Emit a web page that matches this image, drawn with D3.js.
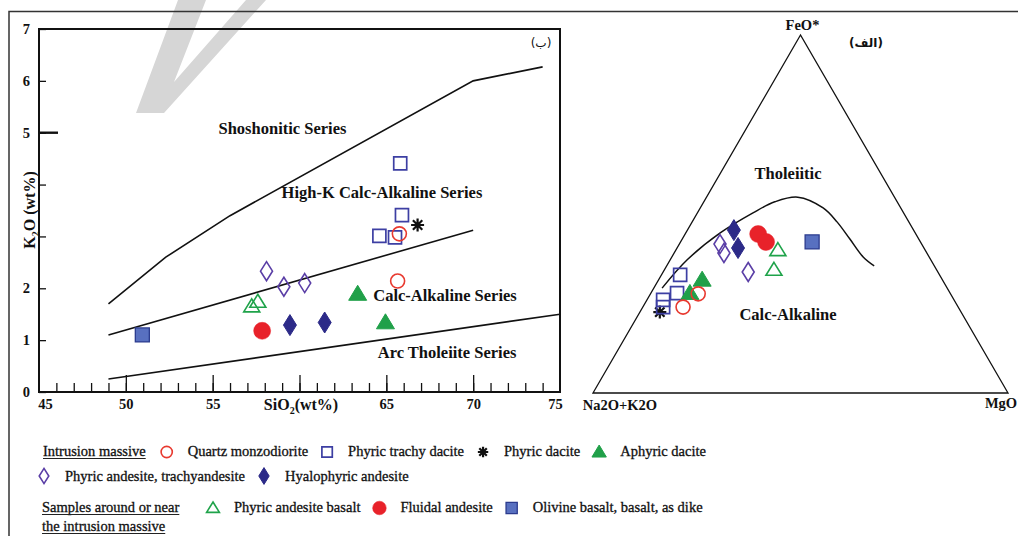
<!DOCTYPE html>
<html>
<head>
<meta charset="utf-8">
<script src="https://cdn.jsdelivr.net/npm/d3@7"></script>
<style>
  body { margin: 0; background: #fff; }
  text { font-family: "Liberation Serif", "Times New Roman", serif; fill: #111; }
</style>
</head>
<body>
<div id="chart"></div>
<script>
// ---------------- data ----------------
const xTickLabels = [45, 50, 55, 65, 70, 75];
const yTickLabels = [0, 1, 2, 5, 6, 7];

const legendKeys = ["qm", "ptd", "pd", "ad", "pa", "ha", "pab", "fa", "ob"];
const legendNames = ["Quartz monzodiorite", "Phyric trachy dacite", "Phyric dacite", "Aphyric dacite",
  "Phyric andesite, trachyandesite", "Hyalophyric andesite",
  "Phyric andesite basalt", "Fluidal andesite", "Olivine basalt, basalt, as dike"];

// K2O vs SiO2 samples
const harkerType = ["ptd", "ptd", "ptd", "ptd", "qm", "qm", "pd", "pa", "pa", "pa",
  "pab", "pab", "fa", "ha", "ha", "ad", "ad", "ob"];
const harkerSiO2 = [65.8, 65.9, 64.6, 65.5, 65.75, 65.65, 66.8, 58.1, 59.1, 60.3,
  57.25, 57.6, 57.85, 59.45, 61.45, 63.35, 64.95, 50.95];
const harkerK2O = [4.41, 3.41, 3.01, 2.98, 3.05, 2.14, 3.22, 2.33, 2.03, 2.10,
  1.65, 1.74, 1.18, 1.29, 1.34, 1.89, 1.34, 1.10];

// series boundaries
const shoLineSiO2 = [49, 52.3, 56, 70, 74];
const shoLineK2O = [1.7, 2.6, 3.4, 6.0, 6.27];
const highKLineSiO2 = [49, 70];
const highKLineK2O = [1.1, 3.12];
const arcLineSiO2 = [49, 75];
const arcLineK2O = [0.25, 1.5];

// AFM samples (percent)
const afmType = ["pd", "ptd", "ptd", "ptd", "ptd", "ad", "ad", "qm", "qm", "pa", "pa", "pa",
  "ha", "ha", "fa", "fa", "pab", "pab", "ob"];
const afmFeO = [22.6, 33.0, 27.9, 26.0, 24.0, 31.6, 27.9, 27.7, 24.0, 41.6, 39.1, 33.8,
  45.5, 40.5, 44.4, 42.2, 39.9, 34.4, 42.2];
const afmMgO = [4.8, 4.5, 6.3, 3.9, 4.9, 10.5, 9.4, 11.5, 9.7, 9.8, 12.0, 20.5,
  11.2, 14.7, 17.6, 20.6, 24.6, 26.4, 31.7];

// Irvine & Baragar boundary (percent)
const ibFeO = [29.3, 37.2, 44.7, 50.3, 53.4, 54.7, 51.7, 47.8, 43.0, 38.0, 35.5];
const ibMgO = [2.0, 4.1, 8.3, 13.4, 17.1, 22.0, 29.6, 34.9, 40.4, 46.1, 50.0];

// ---------------- styles ----------------
const markerStyle = {
  qm:  { shape: "circle",   w: 14, h: 14, fill: "none",    stroke: "#e8392f", sw: 1.6 },
  ptd: { shape: "square",   w: 13, h: 13, fill: "none",    stroke: "#3d3fa3", sw: 1.7 },
  pd:  { shape: "star",     w: 13, h: 13, fill: "none",    stroke: "#111",    sw: 2.2 },
  ad:  { shape: "triangle", w: 18, h: 15, fill: "#20a049", stroke: "#20a049", sw: 1 },
  pa:  { shape: "diamond",  w: 12, h: 19, fill: "none",    stroke: "#5a3ea6", sw: 1.6 },
  ha:  { shape: "diamond",  w: 13, h: 21, fill: "#2c2a88", stroke: "#2c2a88", sw: 1 },
  pab: { shape: "triangle", w: 16, h: 13, fill: "none",    stroke: "#1fa34a", sw: 1.6 },
  fa:  { shape: "circle",   w: 17, h: 17, fill: "#e8222a", stroke: "#e8222a", sw: 0.5 },
  ob:  { shape: "square",   w: 14, h: 14, fill: "#5870c0", stroke: "#2b3b8e", sw: 1.3 }
};

function markerPath(shape, w, h) {
  const r = w / 2;
  if (shape === "circle") return `M${r},0A${r},${r} 0 1,1 ${-r},0A${r},${r} 0 1,1 ${r},0Z`;
  if (shape === "square") return `M${-w / 2},${-h / 2}h${w}v${h}h${-w}Z`;
  if (shape === "diamond") return `M0,${-h / 2}L${w / 2},0L0,${h / 2}L${-w / 2},0Z`;
  if (shape === "triangle") return `M0,${-h * 0.58}L${w / 2},${h * 0.42}L${-w / 2},${h * 0.42}Z`;
  const d = r * 0.72;
  return `M0,${-r}V${r}M${-r},0H${r}M${-d},${-d}L${d},${d}M${-d},${d}L${d},${-d}`;
}

function drawMarker(g, key, k) {
  const s = markerStyle[key];
  g.append("path")
    .attr("d", markerPath(s.shape, s.w * k, s.h * k))
    .attr("fill", s.fill)
    .attr("stroke", s.stroke)
    .attr("stroke-width", s.sw);
}

// ---------------- svg ----------------
const width = 1018, height = 536;
const svg = d3.select("#chart").append("svg")
  .attr("width", width)
  .attr("height", height)
  .style("background", "#fff");

// watermark
svg.append("path")
  .attr("d", "M136,113L164,113L266,0L246,0L174,82L206,0L178,0Z")
  .attr("fill", "#d6d6d6");

// outer frame
svg.append("path")
  .attr("d", "M9,536V11.5H1018")
  .attr("fill", "none")
  .attr("stroke", "#333")
  .attr("stroke-width", 1.5);

// ================ K2O vs SiO2 ================
const x = d3.scaleLinear().domain([45, 75]).range([39, 560]);
const y = d3.scaleLinear().domain([0, 7]).range([392, 29]);

const harker = svg.append("g");

const xMinor = harker.append("g")
  .attr("transform", `translate(0,${y(0)})`)
  .call(d3.axisBottom(x).tickValues(d3.range(46, 75)).tickSize(-9).tickFormat(""));
const xMajor = harker.append("g")
  .attr("transform", `translate(0,${y(0)})`)
  .call(d3.axisBottom(x).tickValues(d3.range(50, 75, 5)).tickSize(-17).tickFormat(""));
const xLabels = harker.append("g")
  .attr("transform", `translate(0,${y(0)})`)
  .call(d3.axisBottom(x).tickValues(xTickLabels).tickSize(0).tickPadding(7).tickFormat(d3.format("d")));
xLabels.selectAll(".tick text")
  .attr("dx", d => d === 45 ? 6 : (d === 75 ? -5 : 0));

const yAxis = harker.append("g")
  .attr("transform", `translate(${x(45)},0)`)
  .call(d3.axisLeft(y).tickValues(d3.range(0, 8)).tickSize(-7).tickPadding(9)
    .tickFormat(d => yTickLabels.includes(d) ? d : ""));

[xMinor, xMajor, xLabels, yAxis].forEach(a => {
  a.select(".domain").remove();
  a.selectAll(".tick line").attr("stroke", "#111").attr("stroke-width", 1.3);
  a.selectAll(".tick text")
    .style("font-family", "'Liberation Serif', serif")
    .style("font-size", "14.5px")
    .style("font-weight", "bold")
    .attr("fill", "#111");
});

// long tick at K2O = 5
harker.append("line")
  .attr("x1", x(45)).attr("x2", x(45) + 19)
  .attr("y1", y(5)).attr("y2", y(5))
  .attr("stroke", "#111").attr("stroke-width", 2.4);

harker.append("rect")
  .attr("x", x(45)).attr("y", y(7))
  .attr("width", x(75) - x(45)).attr("height", y(0) - y(7))
  .attr("fill", "none").attr("stroke", "#111").attr("stroke-width", 2);

// boundary lines
const harkerLine = d3.line().x(d => x(d[0])).y(d => y(d[1]));
[[shoLineSiO2, shoLineK2O], [highKLineSiO2, highKLineK2O], [arcLineSiO2, arcLineK2O]].forEach(([xs, ys]) => {
  harker.append("path")
    .attr("d", harkerLine(d3.zip(xs, ys)))
    .attr("fill", "none")
    .attr("stroke", "#111")
    .attr("stroke-width", 1.6);
});

// axis titles
const xTitle = harker.append("text")
  .attr("x", 301).attr("y", 410)
  .attr("text-anchor", "middle")
  .style("font-size", "16px").style("font-weight", "bold");
xTitle.append("tspan").text("SiO");
xTitle.append("tspan").attr("dy", 4).style("font-size", "10px").text("2");
xTitle.append("tspan").attr("dy", -4).text("(wt%)");

const yTitle = harker.append("text")
  .attr("transform", "translate(35,210) rotate(-90)")
  .attr("text-anchor", "middle")
  .style("font-size", "16px").style("font-weight", "bold");
yTitle.append("tspan").text("K");
yTitle.append("tspan").attr("dy", 4).style("font-size", "10px").text("2");
yTitle.append("tspan").attr("dy", -4).text("O (wt%)");

// series labels
const seriesLabels = [
  ["Shoshonitic Series", 59.02, 5.09],
  ["High-K Calc-Alkaline Series", 64.75, 3.84],
  ["Calc-Alkaline Series", 68.38, 1.87],
  ["Arc Tholeiite Series", 68.5, 0.77]
];
seriesLabels.forEach(([t, sx, sy]) => {
  harker.append("text")
    .attr("x", x(sx)).attr("y", y(sy) + 5.5)
    .attr("text-anchor", "middle")
    .style("font-size", "16.5px").style("font-weight", "bold")
    .text(t);
});
harker.append("text")
  .attr("x", 541).attr("y", 47)
  .attr("text-anchor", "middle")
  .style("font-family", "'DejaVu Sans', sans-serif")
  .style("font-size", "12px")
  .text("(ب)");

// points
harkerType.forEach((t, i) => {
  const g = harker.append("g").attr("transform", `translate(${x(harkerSiO2[i])},${y(harkerK2O[i])})`);
  drawMarker(g, t, 1);
});

// ================ AFM ternary ================
const tx = d3.scaleLinear().domain([0, 100]).range([593, 1008]);
const ty = d3.scaleLinear().domain([0, 100]).range([393, 35]);
const tern = (f, m) => [tx(m + f / 2), ty(f)];

const afm = svg.append("g");
const corners = [tern(100, 0), tern(0, 0), tern(0, 100)];
afm.append("path")
  .attr("d", d3.line()(corners) + "Z")
  .attr("fill", "none")
  .attr("stroke", "#111")
  .attr("stroke-width", 1.3);

afm.append("path")
  .attr("d", d3.line().curve(d3.curveCatmullRom)(d3.zip(ibFeO, ibMgO).map(([f, m]) => tern(f, m))))
  .attr("fill", "none")
  .attr("stroke", "#111")
  .attr("stroke-width", 1.5);

afmType.forEach((t, i) => {
  const [px, py] = tern(afmFeO[i], afmMgO[i]);
  const g = afm.append("g").attr("transform", `translate(${px},${py})`);
  drawMarker(g, t, 1);
});

const afmLabel = (txt, px, py, size) => afm.append("text")
  .attr("x", px).attr("y", py)
  .attr("text-anchor", "middle")
  .style("font-size", size).style("font-weight", "bold")
  .text(txt);
afmLabel("FeO*", corners[0][0] + 2, corners[0][1] - 5, "14.5px");
afmLabel("Na2O+K2O", corners[1][0] + 27, corners[1][1] + 17, "14.5px");
afmLabel("MgO", corners[2][0] - 7, corners[2][1] + 15, "14.5px");
afmLabel("Tholeiitic", ...tern(61.2, 16.4).map((v, i) => i ? v + 5.5 : v), "16.5px");
afmLabel("Calc-Alkaline", ...tern(21.8, 36.1).map((v, i) => i ? v + 5.5 : v), "16.5px");
afm.append("text")
  .attr("x", 866).attr("y", 47)
  .attr("text-anchor", "middle")
  .style("font-family", "'DejaVu Sans', sans-serif")
  .style("font-size", "12px").style("font-weight", "bold")
  .text("(الف)");

// ================ legend ================
const legend = svg.append("g")
  .style("font-size", "14.5px")
  .style("stroke", "#111")
  .style("stroke-width", 0.3);

function underlined(txt, lx, ly) {
  const t = legend.append("text").attr("x", lx).attr("y", ly).text(txt);
  const len = t.node().getComputedTextLength();
  legend.append("line")
    .attr("x1", lx).attr("x2", lx + len)
    .attr("y1", ly + 2.5).attr("y2", ly + 2.5)
    .attr("stroke", "#222").attr("stroke-width", 1);
  return lx + len;
}

function legendRow(keys, startX, markerY, textY) {
  let cx = startX;
  keys.forEach(k => {
    const m = legend.append("g").style("stroke-width", null).attr("transform", `translate(${cx},${markerY})`);
    drawMarker(m, k, 0.8);
    const t = legend.append("text")
      .attr("x", cx + 21).attr("y", textY)
      .text(legendNames[legendKeys.indexOf(k)]);
    cx = cx + 21 + t.node().getComputedTextLength() + 19;
  });
}

const row1End = underlined("Intrusion massive", 43, 456);
legendRow(["qm", "ptd", "pd", "ad"], row1End + 21, 452, 456);
legendRow(["pa", "ha"], 44, 476, 481);
underlined("Samples around or near", 42, 512);
legendRow(["pab", "fa", "ob"], 213, 508, 512);
underlined(" the intrusion massive", 42, 531);
</script>
</body>
</html>
